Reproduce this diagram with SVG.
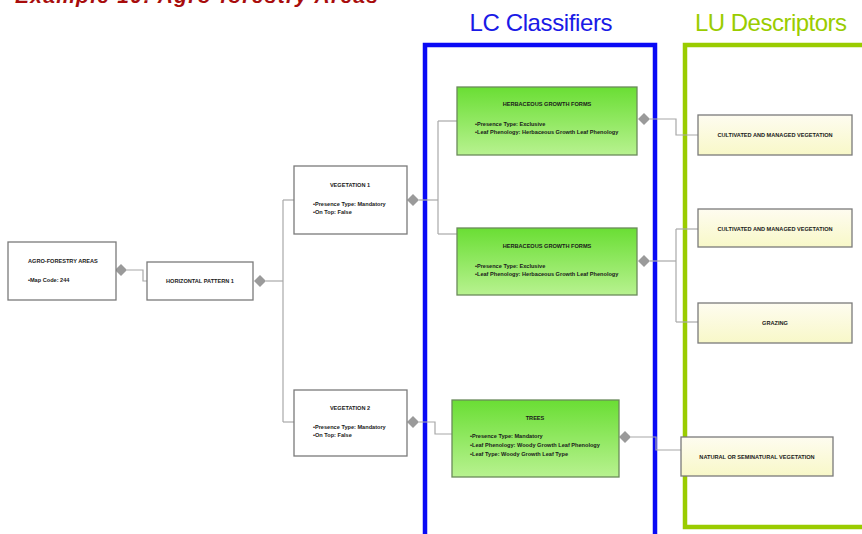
<svg xmlns="http://www.w3.org/2000/svg" width="862" height="534" viewBox="0 0 862 534">
  <defs>
    <linearGradient id="gGreen" x1="0" y1="0" x2="0" y2="1">
      <stop offset="0" stop-color="#6ade34"/>
      <stop offset="1" stop-color="#b8f290"/>
    </linearGradient>
    <linearGradient id="gYellow" x1="0" y1="0" x2="0" y2="1">
      <stop offset="0" stop-color="#fefcf0"/>
      <stop offset="1" stop-color="#f8f8c8"/>
    </linearGradient>
    <path id="dia" d="M0,-6 L6,0 L0,6 L-6,0 Z"/>
  </defs>
  <style>
    .box { fill: #ffffff; stroke: #7a7a7a; stroke-width: 1.3; }
    .green { fill: url(#gGreen); stroke: #6a8a5a; stroke-width: 1.3; }
    .yellow { fill: url(#gYellow); stroke: #7a7a7a; stroke-width: 1.3; }
    .t { font-family: "Liberation Sans", Arial, sans-serif; font-size: 5.6px; font-weight: bold; fill: #1a1a1a; }
    .c { text-anchor: middle; }
    .conn { fill: none; stroke: #a8a8a8; stroke-width: 1.2; }
    .dm { fill: #9a9a9a; }
    .hdr { font-family: "Liberation Sans", Arial, sans-serif; font-size: 24px; text-anchor: middle; }
  </style>

  <rect width="862" height="534" fill="#ffffff"/>

  <!-- page title, running off the top edge -->
  <text x="15" y="3" font-family="Liberation Sans, Arial, sans-serif" font-size="21" font-weight="bold" font-style="italic" fill="#a80c0c" textLength="363">Example 10: Agro-forestry Areas</text>

  <!-- grouping frames -->
  <g id="lc-frame">
    <rect x="425" y="45" width="230" height="492" fill="none" stroke="#0a0af5" stroke-width="4.5"/>
    <text class="hdr" x="541" y="31" fill="#1a1ae6" textLength="143">LC Classifiers</text>
  </g>
  <g id="lu-frame">
    <path d="M 870 45 L 685 45 L 685 527 L 870 527" fill="none" stroke="#9acc00" stroke-width="4.5"/>
    <text class="hdr" x="771" y="31" fill="#9acc00" textLength="152">LU Descriptors</text>
  </g>

  <!-- connectors -->
  <g id="connectors">
    <path class="conn" d="M127,270 H143 V281 H147"/>
    <path class="conn" d="M266,281 H283"/>
    <path class="conn" d="M283,200 V422"/>
    <path class="conn" d="M283,200 H294"/>
    <path class="conn" d="M283,422 H294"/>
    <path class="conn" d="M419,200 H438"/>
    <path class="conn" d="M438,121 V234"/>
    <path class="conn" d="M438,121 H457"/>
    <path class="conn" d="M438,234 H457"/>
    <path class="conn" d="M419,422 H435 V434 H452"/>
    <path class="conn" d="M650,119 H676 V135 H698"/>
    <path class="conn" d="M650,261 H676"/>
    <path class="conn" d="M676,229 V322"/>
    <path class="conn" d="M676,229 H698"/>
    <path class="conn" d="M676,322 H698"/>
    <path class="conn" d="M631,437 H656 V450 H681"/>
    <use href="#dia" class="dm" x="121" y="270"/>
    <use href="#dia" class="dm" x="260" y="281"/>
    <use href="#dia" class="dm" x="413" y="200"/>
    <use href="#dia" class="dm" x="413" y="422"/>
    <use href="#dia" class="dm" x="644" y="119"/>
    <use href="#dia" class="dm" x="644" y="261"/>
    <use href="#dia" class="dm" x="625" y="437"/>
  </g>

  <!-- nodes -->
  <g id="agro-forestry-areas">
    <rect class="box" x="8" y="242" width="108" height="58"/>
    <text class="t" x="28" y="263">AGRO-FORESTRY AREAS</text>
    <text class="t" x="28" y="282">•Map Code: 244</text>
  </g>

  <g id="horizontal-pattern-1">
    <rect class="box" x="147" y="262" width="106" height="38"/>
    <text class="t c" x="200" y="283">HORIZONTAL PATTERN 1</text>
  </g>

  <g id="vegetation-1">
    <rect class="box" x="294" y="166" width="113" height="68"/>
    <text class="t c" x="350" y="187">VEGETATION 1</text>
    <text class="t" x="313" y="206">•Presence Type: Mandatory</text>
    <text class="t" x="313" y="214">•On Top: False</text>
  </g>

  <g id="vegetation-2">
    <rect class="box" x="294" y="390" width="113" height="66"/>
    <text class="t c" x="350" y="410">VEGETATION 2</text>
    <text class="t" x="313" y="429">•Presence Type: Mandatory</text>
    <text class="t" x="313" y="437">•On Top: False</text>
  </g>

  <g id="herbaceous-1">
    <rect class="green" x="457" y="87" width="180" height="68"/>
    <text class="t c" x="547" y="106">HERBACEOUS GROWTH FORMS</text>
    <text class="t" x="475" y="126">•Presence Type: Exclusive</text>
    <text class="t" x="475" y="134">•Leaf Phenology: Herbaceous Growth Leaf Phenology</text>
  </g>

  <g id="herbaceous-2">
    <rect class="green" x="457" y="228" width="180" height="67"/>
    <text class="t c" x="547" y="248">HERBACEOUS GROWTH FORMS</text>
    <text class="t" x="475" y="268">•Presence Type: Exclusive</text>
    <text class="t" x="475" y="276">•Leaf Phenology: Herbaceous Growth Leaf Phenology</text>
  </g>

  <g id="trees">
    <rect class="green" x="452" y="400" width="167" height="77"/>
    <text class="t c" x="535" y="420">TREES</text>
    <text class="t" x="470" y="438">•Presence Type: Mandatory</text>
    <text class="t" x="470" y="447">•Leaf Phenology: Woody Growth Leaf Phenology</text>
    <text class="t" x="470" y="456">•Leaf Type: Woody Growth Leaf Type</text>
  </g>

  <g id="cultivated-1">
    <rect class="yellow" x="698" y="115" width="154" height="40"/>
    <text class="t c" x="775" y="137">CULTIVATED AND MANAGED VEGETATION</text>
  </g>

  <g id="cultivated-2">
    <rect class="yellow" x="698" y="209" width="154" height="38"/>
    <text class="t c" x="775" y="231">CULTIVATED AND MANAGED VEGETATION</text>
  </g>

  <g id="grazing">
    <rect class="yellow" x="698" y="303" width="154" height="40"/>
    <text class="t c" x="775" y="325">GRAZING</text>
  </g>

  <g id="natural-seminatural">
    <rect class="yellow" x="681" y="437" width="152" height="39"/>
    <text class="t c" x="757" y="459">NATURAL OR SEMINATURAL VEGETATION</text>
  </g>
</svg>
